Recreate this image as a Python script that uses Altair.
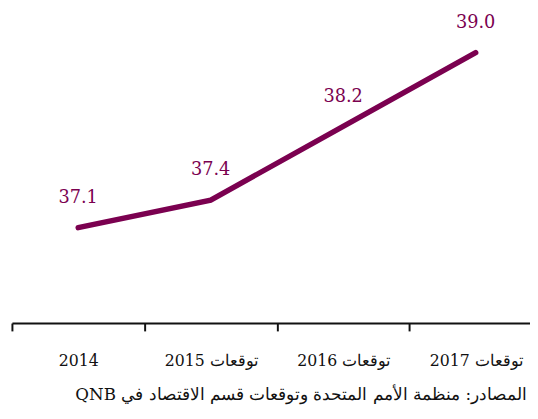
import altair as alt
import pandas as pd

categories = ["2014", "توقعات 2015", "توقعات 2016", "توقعات 2017"]
values = [37.1, 37.4, 38.2, 39.0]
labels = ["37.1", "37.4", "38.2", "39.0"]
source = "\u202bالمصادر: منظمة الأمم المتحدة وتوقعات قسم الاقتصاد في QNB\u202c"

df = pd.DataFrame({"cat": categories, "val": values, "lab": labels,
                   "pos": [i + 0.5 for i in range(len(categories))]})

COLOR = "#7b0150"
FONT = "DejaVu Serif"

xscale = alt.Scale(domain=[0, 3.91], nice=False, zero=False)
label_expr = "[" + ",".join("'" + c + "'" for c in categories) + "][floor(datum.value)]"

tick_axis = alt.Axis(orient="bottom", values=list(range(len(categories))), labels=False,
                     tickSize=8, tickWidth=2, tickColor="#111", domainColor="#111",
                     domainWidth=2, grid=False, title=None)
label_axis = alt.Axis(orient="bottom", values=[i + 0.5 for i in range(len(categories))],
                      labelExpr=label_expr, ticks=False, domain=False, grid=False, title=None,
                      labelFont=FONT, labelFontSize=16, labelColor="#111", labelPadding=30,
                      labelAngle=0)

y = alt.Y("val:Q", title=None, scale=alt.Scale(domain=[36.065, 39.448], nice=False, zero=False),
          axis=None)

line = alt.Chart(df).mark_line(color=COLOR, strokeWidth=5.5, strokeCap="round").encode(
    x=alt.X("pos:Q", scale=xscale, axis=tick_axis), y=y)
text = alt.Chart(df).mark_text(color=COLOR, font=FONT, fontSize=18, dy=-30, baseline="middle").encode(
    x=alt.X("pos:Q", scale=xscale, axis=label_axis), y="val:Q", text="lab:N")

chart = (line + text).resolve_axis(x="independent").properties(
    width=527, height=317,
    autosize=alt.AutoSizeParams(type="none"),
    padding={"left": 4, "right": 0, "top": 0, "bottom": 86},
    title=alt.TitleParams(source, orient="bottom", anchor="end", font=FONT, fontSize=17,
                          fontWeight="normal", color="#111", offset=19, dx=-3),
).configure_view(stroke=None)

chart.save("out.html", embed_options={"renderer": "svg", "actions": False})
